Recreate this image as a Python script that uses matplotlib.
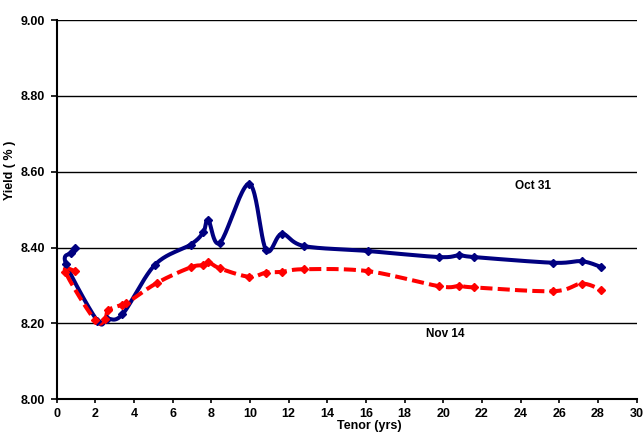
import numpy as np
import matplotlib
matplotlib.use("Agg")
import matplotlib.pyplot as plt

# ---- data ----
oct31_tenor = [0.97, 0.75, 0.48, 2.1, 2.6, 3.4, 5.09, 6.93, 7.58, 7.84, 8.45,
               9.96, 10.83, 11.64, 12.8, 16.09, 19.8, 20.84, 21.59, 25.69, 27.16, 28.16]
oct31_yield = [8.400, 8.386, 8.357, 8.207, 8.212, 8.224, 8.355, 8.408, 8.440, 8.473, 8.413,
               8.568, 8.394, 8.436, 8.404, 8.391, 8.375, 8.380, 8.375, 8.360, 8.364, 8.349]

nov14_tenor = [0.95, 0.45, 1.98, 2.5, 2.67, 3.36, 3.6, 5.19, 6.93, 7.58, 7.84, 8.45,
               9.96, 10.83, 11.64, 12.8, 16.09, 19.8, 20.84, 21.59, 25.69, 27.16, 28.16]
nov14_yield = [8.338, 8.336, 8.209, 8.211, 8.235, 8.249, 8.253, 8.307, 8.348, 8.354, 8.362, 8.345,
               8.323, 8.334, 8.336, 8.343, 8.338, 8.298, 8.299, 8.295, 8.285, 8.305, 8.289]

x_ticks = list(range(0, 31, 2))
y_ticks = [8.00, 8.20, 8.40, 8.60, 8.80, 9.00]

plt.rcParams['font.family'] = ['Liberation Sans', 'DejaVu Sans']
plt.rcParams['font.weight'] = 'bold'

fig = plt.figure(figsize=(6.43, 4.33), dpi=100)
ax = fig.add_axes([0.0882, 0.0778, 0.9017, 0.876])
ax.set_xlim(0, 30)
ax.set_ylim(8.0, 9.0)


def smooth(ax, xs, ys, n=24):
    P = ax.transData.transform(np.column_stack([xs, ys]))
    P = np.vstack([P[0], P, P[-1]])
    out = []
    t = np.linspace(0, 1, n)[:, None]
    for i in range(1, len(P) - 2):
        p0, p1, p2, p3 = P[i - 1], P[i], P[i + 1], P[i + 2]
        c1 = p1 + (p2 - p0) / 6.0
        c2 = p2 - (p3 - p1) / 6.0
        seg = ((1 - t) ** 3) * p1 + 3 * ((1 - t) ** 2) * t * c1 + 3 * (1 - t) * t ** 2 * c2 + t ** 3 * p2
        out.append(seg if i == 1 else seg[1:])
    S = np.vstack(out)
    D = ax.transData.inverted().transform(S)
    return D[:, 0], D[:, 1]


for yv in y_ticks[1:]:
    ax.axhline(yv, color='black', lw=1.0, zorder=1)

bx, by = smooth(ax, oct31_tenor, oct31_yield)
ax.plot(bx, by, color='#000080', lw=2.9, solid_capstyle='round', solid_joinstyle='round', zorder=3)
ax.plot(oct31_tenor, oct31_yield, ls='none', marker='D', ms=3.6, color='#000080', zorder=4)

rx, ry = smooth(ax, nov14_tenor, nov14_yield)
ax.plot(rx, ry, color='#FF0000', lw=2.9, dashes=(3.0, 1.3), dash_capstyle='butt', zorder=3)
ax.plot(nov14_tenor, nov14_yield, ls='none', marker='D', ms=3.6, color='#FF0000', zorder=4)

ax.text(24.64, 8.563, 'Oct 31', ha='center', va='center', fontsize=8.5, fontweight='bold')
ax.text(20.09, 8.173, 'Nov 14', ha='center', va='center', fontsize=8.5, fontweight='bold')

for s in ['top', 'right']:
    ax.spines[s].set_visible(False)
for s in ['left', 'bottom']:
    ax.spines[s].set_linewidth(1.5)
    ax.spines[s].set_color('black')

ax.set_xticks(x_ticks)
ax.set_xticklabels([str(v) for v in x_ticks])
ax.set_yticks(y_ticks)
ax.set_yticklabels([f"{v:.2f}" for v in y_ticks])
ax.tick_params(axis='x', direction='out', length=3, width=1.2, pad=3.5, labelsize=9)
ax.tick_params(axis='y', direction='out', length=4, width=1.2, pad=4.5, labelsize=9)
for lab in ax.get_xticklabels() + ax.get_yticklabels():
    lab.set_fontweight('bold')

fig.text(369 / 643, 1 - 426 / 433, 'Tenor (yrs)', ha='center', va='center',
         fontsize=9, fontweight='bold')
fig.text(10 / 643, 1 - 170 / 433, 'Yield ( % )', ha='center', va='center',
         rotation=90, fontsize=9, fontweight='bold')

fig.savefig('out.png', dpi=100)
